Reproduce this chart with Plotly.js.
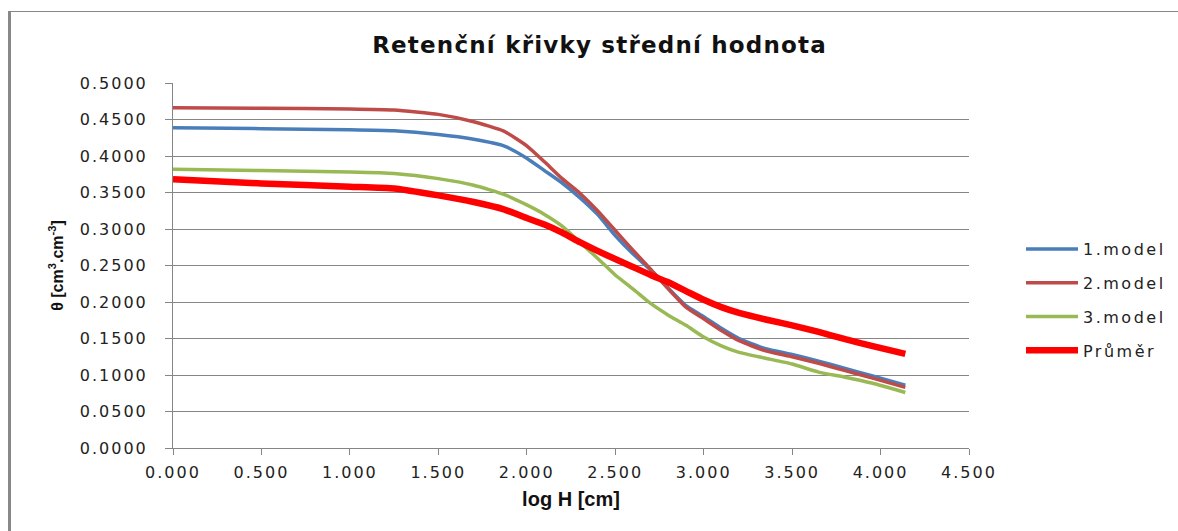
<!DOCTYPE html>
<html>
<head>
<meta charset="utf-8">
<script src="https://cdn.plot.ly/plotly-3.0.1.min.js"></script>
<style>
  html, body { margin: 0; padding: 0; background: #fff; }
  #wrap { position: relative; width: 1178px; height: 531px; overflow: hidden; }
  #chart { position: absolute; left: 0; top: 0; width: 1178px; height: 531px; }
  #frame { position: absolute; left: 8px; top: 11px; width: 1170px; height: 530px;
           border-top: 1px solid #888; border-left: 3px solid #888; pointer-events: none; }
  .ytick text { letter-spacing: 2px; }
  .xtick text { letter-spacing: 2px; }
  text.legendtext { letter-spacing: 2.5px; }
  text.gtitle { letter-spacing: 1.2px; }
</style>
</head>
<body>
<div id="wrap">
  <div id="chart"></div>
  <div id="frame"></div>
</div>
<script>
// log H [cm]
const logH = [0, 0.5, 1.0, 1.25, 1.5, 1.7, 1.87, 2.0, 2.1, 2.2, 2.3, 2.4, 2.5, 2.6, 2.7, 2.8, 2.9, 3.0, 3.1, 3.2, 3.35, 3.5, 3.65, 3.8, 3.95, 4.14];

const model1 = [0.4388, 0.4375, 0.4360, 0.4345, 0.4295, 0.4230, 0.4140, 0.3970, 0.3800, 0.3630, 0.3430, 0.3200, 0.2910, 0.2660, 0.2440, 0.2190, 0.1950, 0.1800, 0.1640, 0.1500, 0.1360, 0.1280, 0.1190, 0.1090, 0.0990, 0.0860];
const model2 = [0.4660, 0.4655, 0.4645, 0.4630, 0.4570, 0.4470, 0.4340, 0.4140, 0.3920, 0.3690, 0.3490, 0.3250, 0.2980, 0.2710, 0.2450, 0.2180, 0.1930, 0.1770, 0.1610, 0.1470, 0.1330, 0.1250, 0.1160, 0.1060, 0.0960, 0.0830];
const model3 = [0.3817, 0.3800, 0.3780, 0.3760, 0.3690, 0.3600, 0.3475, 0.3330, 0.3200, 0.3040, 0.2820, 0.2600, 0.2370, 0.2180, 0.1980, 0.1820, 0.1680, 0.1520, 0.1400, 0.1310, 0.1230, 0.1150, 0.1040, 0.0970, 0.0890, 0.0760];
const prumer = [0.3680, 0.3625, 0.3580, 0.3555, 0.3460, 0.3370, 0.3270, 0.3150, 0.3060, 0.2950, 0.2820, 0.2700, 0.2590, 0.2480, 0.2370, 0.2270, 0.2150, 0.2030, 0.1930, 0.1850, 0.1760, 0.1680, 0.1590, 0.1490, 0.1400, 0.1290];

const seriesNames = ['1.model', '2.model', '3.model', 'Průměr'];
const xTickVals = [0, 0.5, 1.0, 1.5, 2.0, 2.5, 3.0, 3.5, 4.0, 4.5];
const yTickVals = [0, 0.05, 0.1, 0.15, 0.2, 0.25, 0.3, 0.35, 0.4, 0.45, 0.5];

const colors = ['#4A7EBB', '#BE4B48', '#98B954', '#FF0000'];
const widths = [3.5, 3.5, 3.5, 6.5];
const ys = [model1, model2, model3, prumer];

const traces = ys.map((y, i) => ({
  x: logH, y: y, type: 'scatter', mode: 'lines',
  name: seriesNames[i], legendgroup: 'g' + i,
  line: { color: colors[i], width: widths[i], shape: 'spline', smoothing: 0.5 }
}));

const tickFont = { family: 'DejaVu Sans, Verdana, sans-serif', size: 16, color: '#222' };

const layout = {
  width: 1178, height: 531,
  margin: { l: 173, r: 209, t: 83, b: 83, pad: 0 },
  paper_bgcolor: '#fff', plot_bgcolor: '#fff',
  showlegend: true,
  title: {
    text: 'Retenční křivky střední hodnota',
    font: { family: 'DejaVu Sans, Verdana, sans-serif', size: 23, color: '#111', weight: 'bold' },
    x: 0.509, xanchor: 'center', y: 0.915, yanchor: 'middle'
  },
  xaxis: {
    range: [0, 4.5], tickvals: xTickVals, tickformat: '.3f',
    showgrid: false, zeroline: false,
    showline: true, linecolor: '#868686', linewidth: 1,
    ticks: 'outside', ticklen: 6, tickcolor: '#868686', tickwidth: 1,
    tickfont: tickFont, ticklabelstandoff: 4,
    title: { text: 'log H [cm]', font: { family: 'Liberation Sans, Arial, sans-serif', size: 20, color: '#111', weight: 'bold' }, standoff: 10 },
    fixedrange: true
  },
  yaxis: {
    range: [0, 0.5], tickvals: yTickVals, tickformat: '.4f',
    showgrid: true, gridcolor: '#868686', gridwidth: 1,
    zeroline: false,
    showline: true, linecolor: '#868686', linewidth: 1,
    ticks: 'outside', ticklen: 7, tickcolor: '#868686', tickwidth: 1,
    tickfont: tickFont, ticklabelstandoff: 14,
    title: { text: 'θ [cm<sup>3</sup>.cm<sup>-3</sup>]', font: { family: 'Liberation Sans, Arial, sans-serif', size: 16, color: '#111', weight: 'bold' }, standoff: 12 },
    fixedrange: true
  },
  legend: {
    xref: 'container', yref: 'container',
    x: 1021 / 1178, xanchor: 'left',
    y: 1 - 232 / 531, yanchor: 'top',
    font: { family: 'DejaVu Sans, Verdana, sans-serif', size: 16, color: '#222' },
    bgcolor: 'rgba(0,0,0,0)', borderwidth: 0,
    tracegroupgap: 10, itemwidth: 52, traceorder: 'grouped'
  }
};

Plotly.newPlot('chart', traces, layout, { staticPlot: true, displayModeBar: false });
</script>
</body>
</html>
